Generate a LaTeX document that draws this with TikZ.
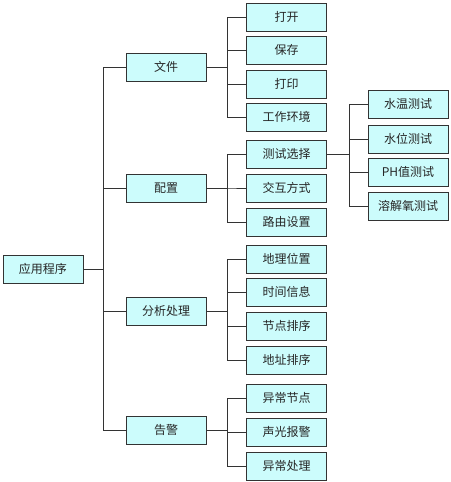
\documentclass[tikz,border=0pt]{standalone}
\usepackage{fontspec}
\newfontfamily\cjk{Noto Sans CJK SC}
\usepackage{xcolor}
\usepackage{tikz}
\definecolor{boxfill}{HTML}{CCFCFC}
\definecolor{lineclr}{HTML}{333333}

\begin{document}
\begin{tikzpicture}[x=1pt,y=-1pt,
    box/.style={draw=lineclr, line width=0.9pt, fill=boxfill, minimum width=80pt,
        minimum height=28pt, inner sep=0pt, font=\cjk\fontsize{12}{14}\selectfont, text=black!85},
    link/.style={draw=lineclr, line width=0.9pt}]
    \useasboundingbox (0,0) rectangle (450,482);

    % Root
    \node[box] (app) at (43,269) {应用程序};

    % First level
    \node[box] (file)    at (166,67)  {文件};
    \node[box] (config)  at (166,188) {配置};
    \node[box] (analyse) at (166,311) {分析处理};
    \node[box] (alarm)   at (166,430) {告警};

    % Second level
    \node[box] (open)    at (286.5,17)  {打开};
    \node[box] (save)    at (286.5,50)  {保存};
    \node[box] (print)   at (286.5,84)  {打印};
    \node[box] (env)     at (286.5,117) {工作环境};
    \node[box] (testsel) at (286.5,154) {测试选择};
    \node[box] (inter)   at (286.5,188) {交互方式};
    \node[box] (route)   at (286.5,222) {路由设置};
    \node[box] (geo)     at (286.5,259) {地理位置};
    \node[box] (time)    at (286.5,292) {时间信息};
    \node[box] (nodesrt) at (286.5,326) {节点排序};
    \node[box] (addrsrt) at (286.5,360) {地址排序};
    \node[box] (abnode)  at (286.5,398) {异常节点};
    \node[box] (sound)   at (286.5,432) {声光报警};
    \node[box] (handle)  at (286.5,466) {异常处理};

    % Third level
    \node[box] (temp) at (408,104) {水温测试};
    \node[box] (lvl)  at (408,139) {水位测试};
    \node[box] (ph)   at (408,172) {PH值测试};
    \node[box] (oxy)  at (408,206) {溶解氧测试};

    % Connectors
    \foreach \c in {file,config,analyse,alarm}
        \draw[link] (app.east) -- +(20,0) |- (\c.west);
    \foreach \c in {open,save,print,env}
        \draw[link] (file.east) -- +(21,0) |- (\c.west);
    \foreach \c in {testsel,inter,route}
        \draw[link] (config.east) -- +(21,0) |- (\c.west);
    \foreach \c in {geo,time,nodesrt,addrsrt}
        \draw[link] (analyse.east) -- +(21,0) |- (\c.west);
    \foreach \c in {abnode,sound,handle}
        \draw[link] (alarm.east) -- +(21,0) |- (\c.west);
    \foreach \c in {temp,lvl,ph,oxy}
        \draw[link] (testsel.east) -- +(22,0) |- (\c.west);

\end{tikzpicture}
\end{document}
